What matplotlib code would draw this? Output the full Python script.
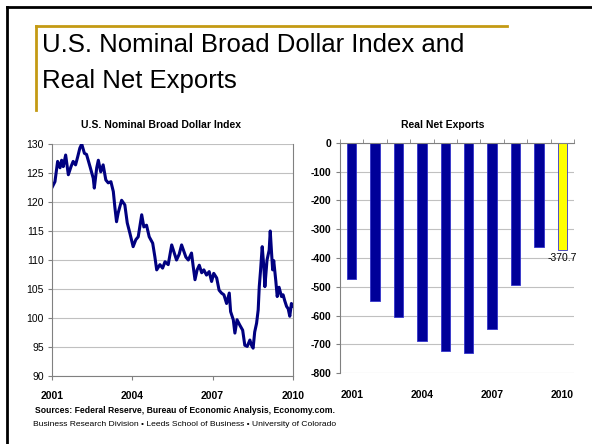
import matplotlib
matplotlib.use('Agg')
import matplotlib.pyplot as plt
from matplotlib.lines import Line2D

plt.rcParams['font.family'] = ['Liberation Sans', 'DejaVu Sans']
plt.rcParams['axes.unicode_minus'] = False

# dollar index (decimal year, index value)
dollar_years = [
    2001.00, 2001.11, 2001.21, 2001.30, 2001.36, 2001.42, 2001.51, 2001.61, 2001.71, 2001.79,
    2001.88, 2001.96, 2002.04, 2002.11, 2002.21, 2002.29, 2002.42, 2002.54, 2002.58, 2002.67,
    2002.73, 2002.82, 2002.91, 2003.01, 2003.10, 2003.20, 2003.29, 2003.35, 2003.41, 2003.47,
    2003.60, 2003.72, 2003.81, 2003.91, 2004.03, 2004.13, 2004.22, 2004.35, 2004.43, 2004.53,
    2004.63, 2004.76, 2004.84, 2004.91, 2005.03, 2005.13, 2005.22, 2005.34, 2005.47, 2005.65,
    2005.75, 2005.84, 2006.00, 2006.09, 2006.21, 2006.27, 2006.34, 2006.42, 2006.50, 2006.59,
    2006.67, 2006.77, 2006.87, 2006.96, 2007.04, 2007.15, 2007.24, 2007.33, 2007.42, 2007.52,
    2007.62, 2007.67, 2007.77, 2007.83, 2007.91, 2008.01, 2008.12, 2008.20, 2008.29, 2008.39,
    2008.45, 2008.51, 2008.57, 2008.64, 2008.70, 2008.74, 2008.79, 2008.85, 2008.91, 2008.95,
    2009.03, 2009.11, 2009.15, 2009.20, 2009.24, 2009.28, 2009.36, 2009.41, 2009.48, 2009.57,
    2009.63, 2009.69, 2009.76, 2009.82, 2009.88, 2009.94, 2009.98,
]
dollar_index = [
    122.5, 123.5, 127.0, 125.9, 127.2, 126.1, 128.1, 124.7, 126.1, 127.0,
    126.4, 127.8, 129.3, 130.0, 128.4, 128.2, 126.1, 124.1, 122.4, 125.9,
    127.2, 125.2, 126.4, 123.8, 123.3, 123.5, 121.8, 119.0, 116.6, 118.1,
    120.3, 119.5, 116.4, 114.6, 112.3, 113.5, 114.0, 117.8, 115.7, 116.0,
    114.0, 112.9, 110.6, 108.3, 109.2, 108.6, 109.7, 109.2, 112.6, 110.0,
    111.0, 112.6, 110.5, 110.0, 111.2, 109.0, 106.6, 108.3, 109.1, 107.8,
    108.3, 107.4, 108.0, 106.3, 107.7, 106.9, 104.8, 104.3, 104.0, 102.5,
    104.3, 101.1, 99.7, 97.4, 99.7, 98.8, 97.9, 95.3, 95.1, 96.2,
    95.3, 94.8, 97.6, 99.1, 101.4, 105.4, 108.3, 112.3, 108.9, 105.4,
    110.0, 111.7, 115.0, 111.2, 108.3, 109.9, 106.3, 103.7, 105.3, 103.7,
    104.0, 103.0, 102.0, 101.6, 100.3, 102.5, 102.0,
]

# real net exports (billions)
export_years = [2001, 2002, 2003, 2004, 2005, 2006, 2007, 2008, 2009, 2010]
net_exports = [-474, -551, -605, -689, -723, -730, -648, -495, -361, -370.7]

navy = '#000099'
grid_c = '#C0C0C0'
spine_c = '#808080'

fig = plt.figure(figsize=(5.92, 4.44), dpi=100)

# slide frame and gold accent
fig.add_artist(Line2D([7/592, 7/592], [0, 1 - 7/444], color='black', lw=2))
fig.add_artist(Line2D([7/592, 1], [1 - 7/444, 1 - 7/444], color='black', lw=2))
gold = '#C49A14'
fig.add_artist(Line2D([36/592, 507/592], [1 - 26/444, 1 - 26/444], color=gold, lw=2))
fig.add_artist(Line2D([36/592, 36/592], [1 - 26/444, 1 - 110/444], color=gold, lw=2))

fig.text(42/592, 1 - 63/444, 'U.S. Nominal Broad Dollar Index and\nReal Net Exports',
         fontsize=18.5, ha='left', va='center', linespacing=1.6)

# left: dollar index
ax1 = fig.add_axes([52/592, 68/444, 241/592, 232/444])
ax1.plot(dollar_years, dollar_index, color='#000080', lw=2.2)
ax1.set_xlim(2001, 2010)
ax1.set_ylim(90, 130)
ax1.set_yticks(range(90, 131, 5))
ax1.set_xticks([2001, 2004, 2007, 2010])
ax1.yaxis.grid(True, color=grid_c, lw=0.8)
ax1.set_axisbelow(True)
for s in ['left', 'bottom', 'right']:
    ax1.spines[s].set_color(spine_c)
ax1.spines['top'].set_visible(False)
ax1.tick_params(axis='y', length=3, color=spine_c, labelsize=7.5, pad=3)
ax1.tick_params(axis='x', length=3, color=spine_c, labelsize=7.5, pad=8)
for lab in ax1.get_xticklabels():
    lab.set_fontweight('bold')
fig.text(161/592, 1 - 125/444, 'U.S. Nominal Broad Dollar Index',
         fontsize=7.5, fontweight='bold', ha='center', va='center')

# right: real net exports
ax2 = fig.add_axes([340/592, 71/444, 234/592, 230/444])
colors = [navy] * (len(net_exports) - 1) + ['#FFFF00']
ax2.bar(export_years, net_exports, width=0.4, color=colors, edgecolor='#3333CC', linewidth=0.6)
ax2.set_xlim(2000.5, 2010.5)
ax2.set_ylim(-800, 0)
ax2.set_yticks(range(-800, 1, 100))
ax2.set_xticks([2001, 2004, 2007, 2010])
ax2.set_xticks([y + 0.5 for y in range(2000, 2011)], minor=True)
ax2.yaxis.grid(True, color=grid_c, lw=0.8)
ax2.set_axisbelow(True)
ax2.spines['left'].set_color(spine_c)
ax2.spines['top'].set_color(spine_c)
ax2.spines['right'].set_visible(False)
ax2.spines['bottom'].set_visible(False)
ax2.tick_params(axis='y', length=3, color=spine_c, labelsize=7.5, pad=3)
ax2.tick_params(axis='x', which='major', length=0, labelsize=7.5, pad=12)
ax2.tick_params(axis='x', which='minor', top=True, bottom=False, length=3, color=spine_c)
for lab in ax2.get_xticklabels() + ax2.get_yticklabels():
    lab.set_fontweight('bold')
ax2.text(export_years[-1], net_exports[-1] - 12, '%.1f' % net_exports[-1],
         ha='center', va='top', fontsize=7.5)
fig.text(443/592, 1 - 125/444, 'Real Net Exports',
         fontsize=7.5, fontweight='bold', ha='center', va='center')

fig.text(35/592, 1 - 410/444, 'Sources: Federal Reserve, Bureau of Economic Analysis, Economy.com.',
         fontsize=6.2, fontweight='bold', ha='left', va='center')
fig.text(33/592, 1 - 424/444,
         'Business Research Division \u2022 Leeds School of Business \u2022 University of Colorado',
         fontsize=6.1, ha='left', va='center')

fig.savefig('out.png', dpi=100)
